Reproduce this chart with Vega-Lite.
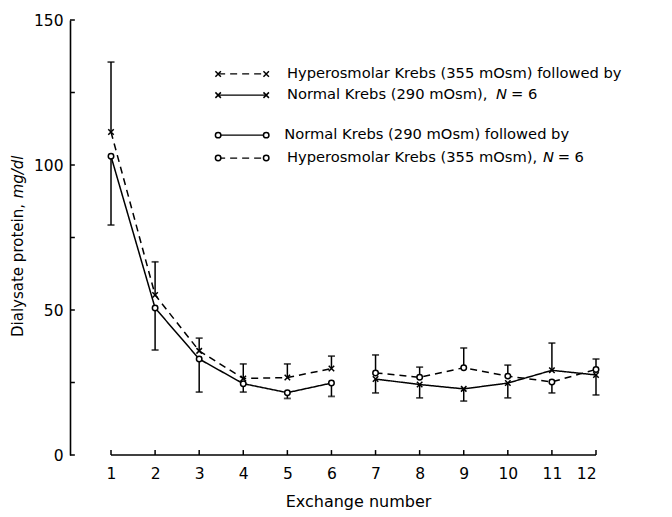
{
  "$schema": "https://vega.github.io/schema/vega-lite/v6.json",
  "width": 526,
  "height": 435,
  "autosize": "none",
  "padding": {"left": 70, "top": 20, "right": 76, "bottom": 62},
  "background": "white",
  "config": {"view": {"stroke": null}, "font": "DejaVu Sans"},
  "datasets": {
    "pts": [
      {"ex": 1, "v": 111.4, "err": 135.5, "grp": "X", "part": "a", "sty": "dashed"},
      {"ex": 2, "v": 55.2, "err": 66.6, "grp": "X", "part": "a", "sty": "dashed"},
      {"ex": 3, "v": 35.9, "err": 40.3, "grp": "X", "part": "a", "sty": "dashed"},
      {"ex": 4, "v": 26.4, "err": 31.4, "grp": "X", "part": "a", "sty": "dashed"},
      {"ex": 5, "v": 26.7, "err": 31.4, "grp": "X", "part": "a", "sty": "dashed"},
      {"ex": 6, "v": 29.8, "err": 34.1, "grp": "X", "part": "a", "sty": "dashed"},
      {"ex": 7, "v": 26.2, "err": 21.4, "grp": "X", "part": "b", "sty": "solid"},
      {"ex": 8, "v": 24.3, "err": 19.7, "grp": "X", "part": "b", "sty": "solid"},
      {"ex": 9, "v": 22.8, "err": 18.6, "grp": "X", "part": "b", "sty": "solid"},
      {"ex": 10, "v": 24.8, "err": 19.7, "grp": "X", "part": "b", "sty": "solid"},
      {"ex": 11, "v": 29.2, "err": 38.6, "grp": "X", "part": "b", "sty": "solid"},
      {"ex": 12, "v": 27.6, "err": 20.7, "grp": "X", "part": "b", "sty": "solid"},
      {"ex": 1, "v": 103.0, "err": 79.3, "grp": "O", "part": "a", "sty": "solid"},
      {"ex": 2, "v": 50.7, "err": 36.2, "grp": "O", "part": "a", "sty": "solid"},
      {"ex": 3, "v": 33.1, "err": 21.7, "grp": "O", "part": "a", "sty": "solid"},
      {"ex": 4, "v": 24.6, "err": 21.7, "grp": "O", "part": "a", "sty": "solid"},
      {"ex": 5, "v": 21.5, "err": 19.5, "grp": "O", "part": "a", "sty": "solid"},
      {"ex": 6, "v": 24.8, "err": 20.2, "grp": "O", "part": "a", "sty": "solid"},
      {"ex": 7, "v": 28.3, "err": 34.5, "grp": "O", "part": "b", "sty": "dashed"},
      {"ex": 8, "v": 26.8, "err": 30.3, "grp": "O", "part": "b", "sty": "dashed"},
      {"ex": 9, "v": 30.1, "err": 36.9, "grp": "O", "part": "b", "sty": "dashed"},
      {"ex": 10, "v": 27.2, "err": 31.0, "grp": "O", "part": "b", "sty": "dashed"},
      {"ex": 11, "v": 25.2, "err": 21.4, "grp": "O", "part": "b", "sty": "dashed"},
      {"ex": 12, "v": 29.5, "err": 33.1, "grp": "O", "part": "b", "sty": "dashed"}
    ],
    "axisline": [{"x1": 1, "x2": 12, "y": 0}],
    "xticks": [
      {"x": 1, "y1": 0, "y2": 1.7}, {"x": 2, "y1": 0, "y2": 1.7}, {"x": 3, "y1": 0, "y2": 1.7},
      {"x": 4, "y1": 0, "y2": 1.7}, {"x": 5, "y1": 0, "y2": 1.7}, {"x": 6, "y1": 0, "y2": 1.7},
      {"x": 7, "y1": 0, "y2": 1.7}, {"x": 8, "y1": 0, "y2": 1.7}, {"x": 9, "y1": 0, "y2": 1.7},
      {"x": 10, "y1": 0, "y2": 1.7}, {"x": 11, "y1": 0, "y2": 1.7}, {"x": 12, "y1": 0, "y2": 1.7}
    ],
    "yticks": [
      {"x1": 0.07, "x2": 0.18, "y": 0}, {"x1": 0.07, "x2": 0.18, "y": 25},
      {"x1": 0.07, "x2": 0.18, "y": 50}, {"x1": 0.07, "x2": 0.18, "y": 75},
      {"x1": 0.07, "x2": 0.18, "y": 100}, {"x1": 0.07, "x2": 0.18, "y": 125},
      {"x1": 0.07, "x2": 0.18, "y": 150}
    ],
    "leglines": [
      {"x1": 3.43, "x2": 4.52, "y": 131.4, "grp": "X", "sty": "dashed"},
      {"x1": 3.43, "x2": 4.52, "y": 124.1, "grp": "X", "sty": "solid"},
      {"x1": 3.43, "x2": 4.52, "y": 110.3, "grp": "O", "sty": "solid"},
      {"x1": 3.43, "x2": 4.52, "y": 102.4, "grp": "O", "sty": "dashed"}
    ],
    "legpts": [
      {"x": 3.43, "y": 131.4, "grp": "X"}, {"x": 4.52, "y": 131.4, "grp": "X"},
      {"x": 3.43, "y": 124.1, "grp": "X"}, {"x": 4.52, "y": 124.1, "grp": "X"},
      {"x": 3.43, "y": 110.3, "grp": "O"}, {"x": 4.52, "y": 110.3, "grp": "O"},
      {"x": 3.43, "y": 102.4, "grp": "O"}, {"x": 4.52, "y": 102.4, "grp": "O"}
    ],
    "legtext": [
      {"x": 4.99, "y": 131.4, "t": "Hyperosmolar Krebs (355 mOsm) followed by", "it": false},
      {"x": 4.99, "y": 124.1, "t": "Normal Krebs (290 mOsm),", "it": false},
      {"x": 9.73, "y": 124.1, "t": "N", "it": true},
      {"x": 10.07, "y": 124.1, "t": "= 6", "it": false},
      {"x": 4.93, "y": 110.3, "t": "Normal Krebs (290 mOsm) followed by", "it": false},
      {"x": 4.99, "y": 102.4, "t": "Hyperosmolar Krebs (355 mOsm),", "it": false},
      {"x": 10.8, "y": 102.4, "t": "N", "it": true},
      {"x": 11.13, "y": 102.4, "t": "= 6", "it": false}
    ],
    "ytitle": [
      {"x": -1.11, "y": 40.7, "t": "Dialysate protein,", "it": false},
      {"x": -1.11, "y": 88.5, "t": "mg/dl", "it": true}
    ]
  },
  "layer": [
    {
      "data": {"name": "axisline"},
      "mark": {"type": "rule", "color": "black", "strokeWidth": 1.6},
      "encoding": {
        "x": {"field": "x1", "type": "quantitative", "scale": {"domain": [0.07, 12], "nice": false, "zero": false},
          "axis": {"values": [1,2,3,4,5,6,7,8,9,10,11,12], "domain": false, "grid": false, "ticks": false,
            "labelFontSize": 15.5, "labelColor": "black", "labelPadding": 11, "labelFont": "DejaVu Sans",
            "title": "Exchange number", "titleFontSize": 16, "titleFontWeight": "normal", "titleColor": "black", "titleFont": "DejaVu Sans",
            "titleX": 288, "titleY": 46, "titleBaseline": "middle"}},
        "x2": {"field": "x2"},
        "y": {"field": "y", "type": "quantitative", "scale": {"domain": [0, 150], "nice": false},
          "axis": {"values": [0,50,100,150], "grid": false,
            "domain": true, "domainColor": "black", "domainWidth": 1.6, "ticks": false,
            "labelFontSize": 15.5, "labelColor": "black", "labelPadding": 7, "labelFont": "DejaVu Sans", "title": null}}
      }
    },
    {
      "data": {"name": "xticks"},
      "mark": {"type": "rule", "color": "black", "strokeWidth": 1.5},
      "encoding": {
        "x": {"field": "x", "type": "quantitative"},
        "y": {"field": "y1", "type": "quantitative"},
        "y2": {"field": "y2"}
      }
    },
    {
      "data": {"name": "yticks"},
      "mark": {"type": "rule", "color": "black", "strokeWidth": 1.5},
      "encoding": {
        "x": {"field": "x1", "type": "quantitative"},
        "x2": {"field": "x2"},
        "y": {"field": "y", "type": "quantitative"}
      }
    },
    {
      "data": {"name": "pts"},
      "mark": {"type": "rule", "color": "black", "strokeWidth": 1.5},
      "encoding": {
        "x": {"field": "ex", "type": "quantitative"},
        "y": {"field": "v", "type": "quantitative"},
        "y2": {"field": "err"}
      }
    },
    {
      "data": {"name": "pts"},
      "mark": {"type": "point", "shape": "stroke", "size": 49, "color": "black", "strokeWidth": 1.8, "filled": false},
      "encoding": {
        "x": {"field": "ex", "type": "quantitative"},
        "y": {"field": "err", "type": "quantitative"}
      }
    },
    {
      "data": {"name": "pts"},
      "mark": {"type": "line", "color": "black", "strokeWidth": 1.5},
      "encoding": {
        "x": {"field": "ex", "type": "quantitative"},
        "y": {"field": "v", "type": "quantitative"},
        "detail": [{"field": "grp"}, {"field": "part"}],
        "strokeDash": {"field": "sty", "type": "nominal", "scale": {"domain": ["solid", "dashed"], "range": [[1, 0], [7, 5]]}, "legend": null}
      }
    },
    {
      "data": {"name": "leglines"},
      "mark": {"type": "rule", "color": "black", "strokeWidth": 1.3},
      "encoding": {
        "x": {"field": "x1", "type": "quantitative"},
        "x2": {"field": "x2"},
        "y": {"field": "y", "type": "quantitative"},
        "strokeDash": {"field": "sty", "type": "nominal", "scale": {"domain": ["solid", "dashed"], "range": [[1, 0], [7, 5]]}, "legend": null}
      }
    },
    {
      "data": {"name": "pts"},
      "mark": {"type": "point", "size": 30, "strokeWidth": 1.5, "opacity": 1},
      "encoding": {
        "x": {"field": "ex", "type": "quantitative"},
        "y": {"field": "v", "type": "quantitative"},
        "shape": {"field": "grp", "type": "nominal", "scale": {"domain": ["X", "O"], "range": ["M-1,-1L1,1M-1,1L1,-1", "circle"]}, "legend": null},
        "fill": {"field": "grp", "type": "nominal", "scale": {"domain": ["X", "O"], "range": ["transparent", "white"]}, "legend": null},
        "stroke": {"value": "black"}
      }
    },
    {
      "data": {"name": "legpts"},
      "mark": {"type": "point", "size": 30, "strokeWidth": 1.5, "opacity": 1},
      "encoding": {
        "x": {"field": "x", "type": "quantitative"},
        "y": {"field": "y", "type": "quantitative"},
        "shape": {"field": "grp", "type": "nominal", "scale": {"domain": ["X", "O"], "range": ["M-1,-1L1,1M-1,1L1,-1", "circle"]}, "legend": null},
        "fill": {"field": "grp", "type": "nominal", "scale": {"domain": ["X", "O"], "range": ["transparent", "white"]}, "legend": null},
        "stroke": {"value": "black"}
      }
    },
    {
      "data": {"name": "legtext"},
      "transform": [{"filter": "!datum.it"}],
      "mark": {"type": "text", "align": "left", "baseline": "middle", "fontSize": 14.7, "color": "black", "font": "DejaVu Sans"},
      "encoding": {
        "x": {"field": "x", "type": "quantitative"},
        "y": {"field": "y", "type": "quantitative"},
        "text": {"field": "t"}
      }
    },
    {
      "data": {"name": "legtext"},
      "transform": [{"filter": "datum.it"}],
      "mark": {"type": "text", "align": "left", "baseline": "middle", "fontSize": 14.7, "fontStyle": "italic", "color": "black", "font": "DejaVu Sans"},
      "encoding": {
        "x": {"field": "x", "type": "quantitative"},
        "y": {"field": "y", "type": "quantitative"},
        "text": {"field": "t"}
      }
    },
    {
      "data": {"name": "ytitle"},
      "transform": [{"filter": "!datum.it"}],
      "mark": {"type": "text", "align": "left", "baseline": "middle", "angle": 270, "fontSize": 15, "color": "black", "font": "DejaVu Sans"},
      "encoding": {
        "x": {"field": "x", "type": "quantitative"},
        "y": {"field": "y", "type": "quantitative"},
        "text": {"field": "t"}
      }
    },
    {
      "data": {"name": "ytitle"},
      "transform": [{"filter": "datum.it"}],
      "mark": {"type": "text", "align": "left", "baseline": "middle", "angle": 270, "fontSize": 15, "fontStyle": "italic", "color": "black", "font": "DejaVu Sans"},
      "encoding": {
        "x": {"field": "x", "type": "quantitative"},
        "y": {"field": "y", "type": "quantitative"},
        "text": {"field": "t"}
      }
    }
  ]
}
